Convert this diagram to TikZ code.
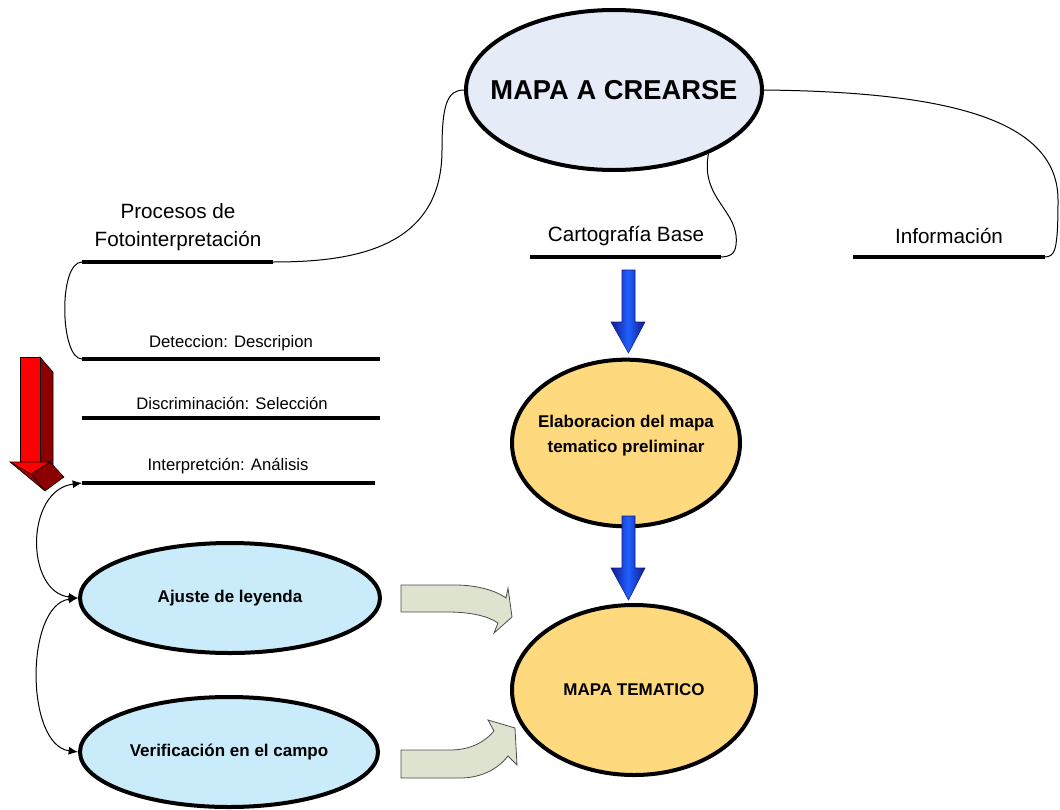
\documentclass[tikz,border=0pt]{standalone}
\usepackage{fontspec}
\setmainfont{Liberation Sans}
\usetikzlibrary{shapes.geometric,arrows.meta}
\definecolor{mapafill}{HTML}{E6ECF7}
\definecolor{bluefill}{HTML}{C9EBFA}
\definecolor{yelfill}{HTML}{FFD97E}
\definecolor{darkred}{HTML}{8B0000}
\definecolor{curvefill}{HTML}{DDE3CF}
\definecolor{bluemid}{HTML}{2060FF}
\definecolor{blueedge}{HTML}{101A8C}
\newcommand{\zw}[1]{\makebox[0pt][c]{#1}}
\tikzset{
  oval/.style={ellipse, draw=black, line width=3pt, inner sep=0pt},
  bar/.style={line width=3pt},
  lbl/.style={inner sep=0pt, align=center},
  conn/.style={line width=0.75pt},
  tip/.style={{Latex[length=7pt,width=6pt]}-{Latex[length=7pt,width=6pt]}},
  bluearrow/.style={draw=blueedge, line width=0.4pt, left color=blueedge, right color=blueedge, middle color=bluemid},
  grayarrow/.style={draw=black!70, line width=0.6pt, fill=curvefill},
}
\begin{document}
\begin{tikzpicture}[x=0.75pt,y=-0.75pt]
\useasboundingbox (0,0) rectangle (1060,810);

% ellipses
\node[oval, fill=mapafill, minimum width=222pt, minimum height=120pt, font=\bfseries\fontsize{20.5}{24}\selectfont] (mapa) at (614,90) {\zw{MAPA A CREARSE}};
\node[oval, fill=yelfill, minimum width=171pt, minimum height=125pt, font=\bfseries\fontsize{12.75}{19}\selectfont] (elab) at (626,443) {\zw{\raisebox{0pt}[\height][\dimexpr\depth+12pt\relax]{\begin{tabular}{@{}c@{}}Elaboracion del mapa\\tematico preliminar\end{tabular}}}};
\node[oval, fill=yelfill, minimum width=183pt, minimum height=127.5pt, font=\bfseries\fontsize{12.75}{15}\selectfont] (tema) at (634,690) {\zw{MAPA TEMATICO}};
\node[oval, fill=bluefill, minimum width=225pt, minimum height=82.5pt, font=\bfseries\fontsize{12.75}{15}\selectfont] (ajuste) at (230,598) {\zw{Ajuste de leyenda}};
\node[oval, fill=bluefill, minimum width=223.5pt, minimum height=82.5pt, font=\bfseries\fontsize{12.75}{15}\selectfont] (verif) at (229,752) {\zw{Verificación en el campo}};

% labels
\node[lbl, font=\fontsize{15.5}{21.5}\selectfont] (proc) at (178,227) {Procesos de\\Fotointerpretación};
\node[lbl, font=\fontsize{15.5}{18}\selectfont] (cart) at (626,236) {Cartografía Base};
\node[lbl, font=\fontsize{15.5}{18}\selectfont] (info) at (949,236) {Información};
\node[lbl, font=\fontsize{12.5}{15}\selectfont] (det) at (231,343) {Deteccion: Descripion};
\node[lbl, font=\fontsize{12.5}{15}\selectfont] (disc) at (232,403) {Discriminación: Selección};
\node[lbl, font=\fontsize{12.5}{15}\selectfont] (interp) at (228,466) {Interpretción: Análisis};

% bars
\coordinate (pl) at (82,262); \coordinate (pr) at (273,262);
\coordinate (cl) at (530,257); \coordinate (cr) at (721,257);
\coordinate (il) at (853,257); \coordinate (ir) at (1045,257);
\coordinate (dl) at (82,359); \coordinate (dr) at (380,359);
\coordinate (sl) at (82,418); \coordinate (sr) at (380,418);
\coordinate (tl) at (82,483); \coordinate (tr) at (375,483);
\draw[bar] (pl) -- (pr);
\draw[bar] (cl) -- (cr);
\draw[bar] (il) -- (ir);
\draw[bar] (dl) -- (dr);
\draw[bar] (sl) -- (sr);
\draw[bar] (tl) -- (tr);

% connectors
\draw[conn] (mapa.west) .. controls (447,90) and (442,105) .. (442,150) .. controls (442,250) and (350,262) .. (pr);
\draw[conn] (mapa.-34) .. controls (700,200) and (740,210) .. (736,245) .. controls (735,255) and (728,257) .. (cr);
\draw[conn] (mapa.east) .. controls (950,92) and (1058,120) .. (1058,200) .. controls (1058,250) and (1055,257) .. (ir);
\draw[conn] (pl) .. controls (58,262) and (60,359) .. (dl);
\draw[conn, tip] (tl) .. controls (25,490) and (25,592) .. (ajuste.west);
\draw[conn, tip] (ajuste.west) .. controls (25,605) and (25,745) .. (verif.west);

% blue arrows
\path[bluearrow] (622,270) -- (635,270) -- (635,322) -- (645,322) -- (628.5,353) -- (611,322) -- (622,322) -- cycle;
\path[bluearrow] (622,516) -- (635,516) -- (635,568) -- (645,568) -- (628.5,600) -- (611,568) -- (622,568) -- cycle;

% red 3D arrow
\draw[fill=darkred, line width=0.4pt] (40,357) -- (53,372) -- (53,466) -- (40,462) -- cycle;
\draw[fill=red, line width=0.4pt] (20,357) rectangle (40,462);
\draw[fill=darkred, line width=0.4pt] (31,474) -- (50,462) -- (64,477) -- (45,491) -- cycle;
\draw[fill=darkred!85!red, line width=0.4pt] (10,462) -- (31,474) -- (45,491) -- cycle;
\draw[fill=red, line width=0.4pt] (10,462) -- (50,462) -- (31,474) -- cycle;

% gray curved arrows
\draw[grayarrow] (401,585) -- (455,585) .. controls (480,585) and (498,592) .. (506,598) -- (508,588) -- (512,617) -- (494,633) -- (498,623) .. controls (488,616) and (470,612) .. (448,612) -- (401,612) -- cycle;
\draw[grayarrow] (401,750) -- (450,750) .. controls (470,750) and (485,742) .. (494,731) -- (488,720) -- (515,728) -- (517,765) -- (508,756) .. controls (497,770) and (480,778) .. (460,778) -- (401,778) -- cycle;
\end{tikzpicture}
\end{document}
